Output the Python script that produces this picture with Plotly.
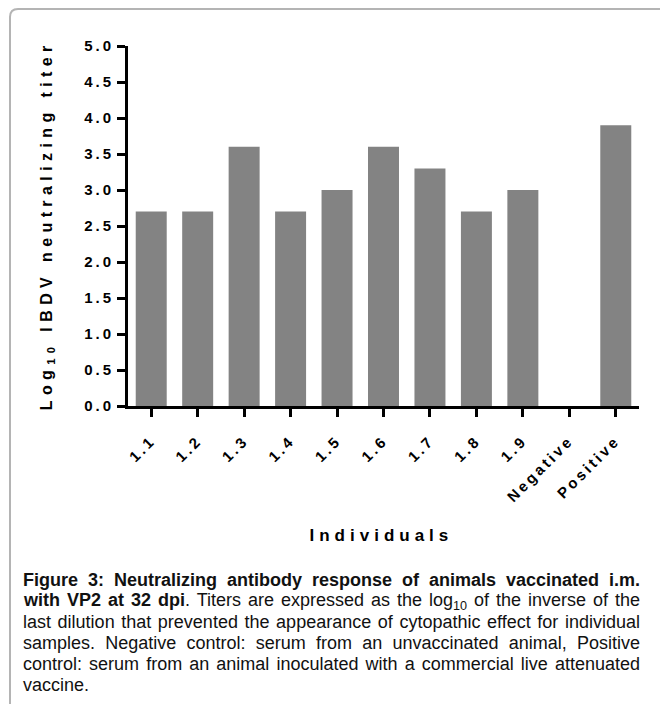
import plotly.graph_objects as go

# ---- data ----
categories = ["1.1", "1.2", "1.3", "1.4", "1.5", "1.6", "1.7", "1.8", "1.9", "Negative", "Positive"]
titers = [2.7, 2.7, 3.6, 2.7, 3.0, 3.6, 3.3, 2.7, 3.0, 0.0, 3.9]
y_ticks = [0, 0.5, 1.0, 1.5, 2.0, 2.5, 3.0, 3.5, 4.0, 4.5, 5.0]
y_title = "Log<sub>10</sub> IBDV neutralizing titer"
x_title = "Individuals"
caption_lines = [
    "<b>Figure 3: Neutralizing antibody response of animals vaccinated i.m.</b>",
    "<b>with VP2 at 32 dpi</b>. Titers are expressed as the log<sub>10</sub> of the inverse of the",
    "last dilution that prevented the appearance of cytopathic effect for individual",
    "samples. Negative control: serum from an unvaccinated animal, Positive",
    "control: serum from an animal inoculated with a commercial live attenuated",
    "vaccine.",
]

W, H = 660, 704
L, R, T, B = 128, 21, 46, 298
PW, PH = W - L - R, H - T - B


def px_x(x):
    return (x - L) / PW


def px_y(y):
    return (H - B - y) / PH


FONT = "Liberation Sans, Arial, sans-serif"

fig = go.Figure()
fig.add_trace(go.Bar(x=categories, y=titers, marker=dict(color="#838383", line=dict(width=0)),
                     hoverinfo="x+y"))

fig.update_layout(
    width=W, height=H,
    margin=dict(l=L, r=R, t=T, b=B, pad=0),
    paper_bgcolor="white", plot_bgcolor="white",
    bargap=0.333, showlegend=False,
    font=dict(family=FONT, color="black"),
)
fig.update_xaxes(
    type="category", range=[-0.5, 10.5],
    showline=True, linecolor="black", linewidth=3,
    ticks="outside", ticklen=8, tickwidth=3, tickcolor="black",
    tickangle=-45, tickfont=dict(size=15, weight="bold", family=FONT),
    ticklabelstandoff=9,
    showgrid=False, zeroline=False,
)
fig.update_yaxes(
    range=[0, 5], tickvals=y_ticks, tickformat=".1f",
    showline=True, linecolor="black", linewidth=3,
    ticks="outside", ticklen=8, tickwidth=3, tickcolor="black",
    tickfont=dict(size=15, weight="bold", family=FONT),
    showgrid=False, zeroline=False,
)

# axis titles
fig.add_annotation(text=y_title, xref="paper", yref="paper", x=px_x(47), y=px_y(226),
                   textangle=-90, showarrow=False, xanchor="center", yanchor="middle",
                   font=dict(size=16, weight="bold", family=FONT))
fig.add_annotation(text=x_title, xref="paper", yref="paper", x=px_x(381), y=px_y(535),
                   showarrow=False, xanchor="center", yanchor="middle",
                   font=dict(size=17, weight="bold", family=FONT))

# caption
for i, line in enumerate(caption_lines):
    fig.add_annotation(text=line, xref="paper", yref="paper", x=px_x(21), y=px_y(580 + 21 * i),
                       showarrow=False, xanchor="left", yanchor="middle", align="left",
                       font=dict(size=18, family=FONT, color="#111"))

# frame
xl, yt = px_x(10), px_y(9)
xr, yb = px_x(700), px_y(760)
dx, dy = 8 / PW, 8 / PH
fig.add_shape(type="path", xref="paper", yref="paper",
              path=f"M {xl},{yb} L {xl},{yt - dy} Q {xl},{yt} {xl + dx},{yt} L {xr},{yt}",
              line=dict(color="#b4b4b4", width=2))

post = """
document.body.style.margin = '0';
document.body.style.overflow = 'hidden';
var gd = document.querySelector('.plotly-graph-div');
gd.querySelectorAll('.ytick text, .xtick text').forEach(function(t){t.style.letterSpacing='3px';});
gd.querySelectorAll('.annotation-text').forEach(function(t){
  var s = t.textContent;
  if (s.indexOf('IBDV') >= 0) { t.style.letterSpacing = '5.4px'; return; }
  if (s.indexOf('Individuals') >= 0) { t.style.letterSpacing = '5px'; return; }
  if (s.indexOf('vaccine.') === 0) { return; }
  var n = (s.match(/ /g) || []).length;
  if (n > 0) {
    var r = t.getBoundingClientRect();
    var extra = (640 - r.right) / n;
    if (extra > 0) { t.style.wordSpacing = extra.toFixed(2) + 'px'; }
  }
});
"""
fig.write_html("out.html", post_script=post, config={"displayModeBar": False})
